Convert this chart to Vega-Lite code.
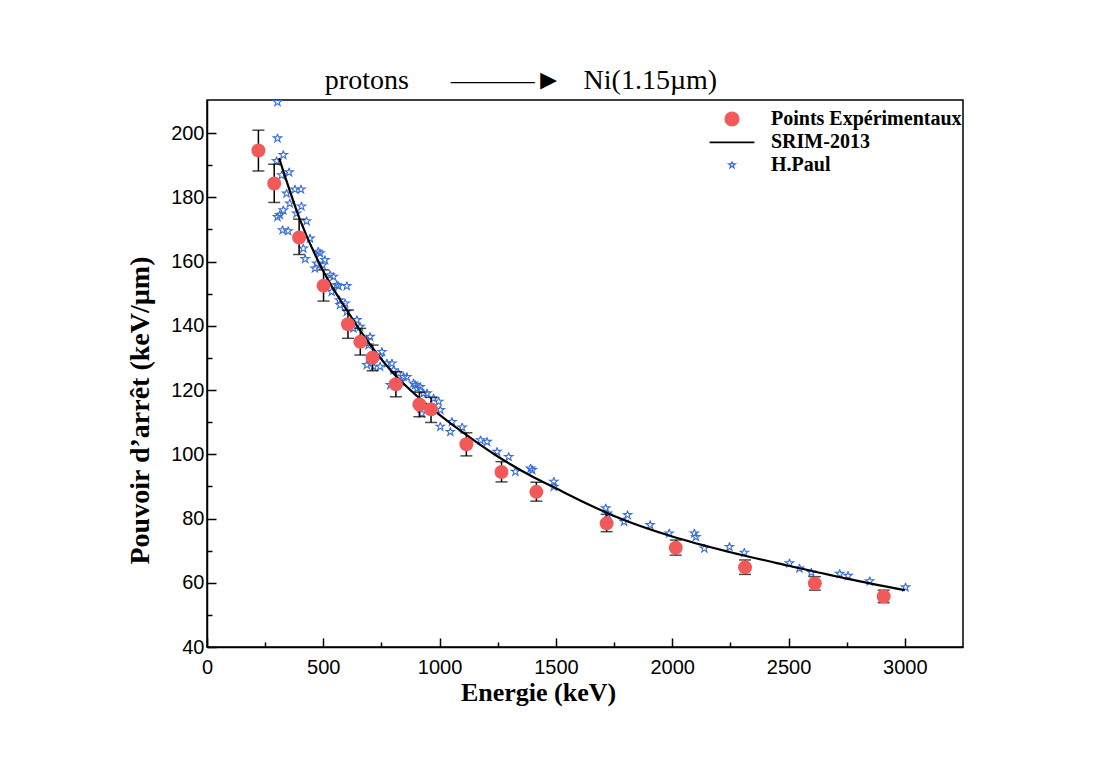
{
  "$schema": "https://vega.github.io/schema/vega-lite/v6.json",
  "width": 756,
  "height": 547,
  "autosize": {"type": "none"},
  "padding": {"left": 207, "top": 100, "right": 151, "bottom": 123},
  "background": "white",
  "title": {
    "text": "protons\u00a0\u00a0\u00a0\u00a0\u00a0\u00a0———►\u00a0\u00a0\u00a0Ni(1.15µm)",
    "font": "Liberation Serif",
    "fontSize": 28,
    "fontWeight": "normal",
    "color": "black",
    "anchor": "middle",
    "dx": -64,
    "baseline": "alphabetic",
    "offset": -17
  },
  "config": {
    "view": {"stroke": "black", "strokeWidth": 1.5},
    "axis": {
      "domainColor": "black",
      "domainWidth": 1.5,
      "tickColor": "black",
      "tickWidth": 1.5,
      "grid": false,
      "labelFont": "Liberation Sans",
      "labelFontSize": 20,
      "labelColor": "black",
      "labelFlush": false,
      "titleFont": "Liberation Serif",
      "titleFontWeight": "bold",
      "titleFontSize": 26,
      "titleColor": "black"
    }
  },
  "datasets": {
    "exp": [
      {"E": 221, "V": 194.6, "lo": 188.2, "hi": 200.9, "series": "Points Expérimentaux"},
      {"E": 289, "V": 184.3, "lo": 178.4, "hi": 190.3, "series": "Points Expérimentaux"},
      {"E": 396, "V": 167.5, "lo": 162.2, "hi": 173.2, "series": "Points Expérimentaux"},
      {"E": 501, "V": 152.5, "lo": 147.7, "hi": 157.4, "series": "Points Expérimentaux"},
      {"E": 606, "V": 140.5, "lo": 136.1, "hi": 144.9, "series": "Points Expérimentaux"},
      {"E": 659, "V": 135.0, "lo": 130.9, "hi": 139.2, "series": "Points Expérimentaux"},
      {"E": 712, "V": 130.1, "lo": 126.0, "hi": 134.0, "series": "Points Expérimentaux"},
      {"E": 812, "V": 121.8, "lo": 117.9, "hi": 125.7, "series": "Points Expérimentaux"},
      {"E": 913, "V": 115.5, "lo": 111.7, "hi": 119.3, "series": "Points Expérimentaux"},
      {"E": 963, "V": 114.0, "lo": 109.9, "hi": 117.7, "series": "Points Expérimentaux"},
      {"E": 1115, "V": 103.1, "lo": 99.5, "hi": 106.7, "series": "Points Expérimentaux"},
      {"E": 1266, "V": 94.5, "lo": 91.4, "hi": 97.7, "series": "Points Expérimentaux"},
      {"E": 1416, "V": 88.3, "lo": 85.4, "hi": 91.3, "series": "Points Expérimentaux"},
      {"E": 1718, "V": 78.5, "lo": 75.9, "hi": 81.3, "series": "Points Expérimentaux"},
      {"E": 2015, "V": 70.9, "lo": 68.6, "hi": 73.3, "series": "Points Expérimentaux"},
      {"E": 2313, "V": 64.8, "lo": 62.6, "hi": 67.1, "series": "Points Expérimentaux"},
      {"E": 2613, "V": 59.8, "lo": 57.7, "hi": 61.9, "series": "Points Expérimentaux"},
      {"E": 2909, "V": 55.7, "lo": 53.8, "hi": 57.7, "series": "Points Expérimentaux"}
    ],
    "srim": [
      {"E": 310, "V": 192.2, "series": "SRIM-2013"},
      {"E": 400, "V": 173.0, "series": "SRIM-2013"},
      {"E": 500, "V": 157.0, "series": "SRIM-2013"},
      {"E": 600, "V": 145.0, "series": "SRIM-2013"},
      {"E": 700, "V": 134.3, "series": "SRIM-2013"},
      {"E": 800, "V": 125.3, "series": "SRIM-2013"},
      {"E": 900, "V": 118.3, "series": "SRIM-2013"},
      {"E": 1000, "V": 112.3, "series": "SRIM-2013"},
      {"E": 1100, "V": 106.8, "series": "SRIM-2013"},
      {"E": 1250, "V": 99.3, "series": "SRIM-2013"},
      {"E": 1400, "V": 93.0, "series": "SRIM-2013"},
      {"E": 1500, "V": 89.4, "series": "SRIM-2013"},
      {"E": 1600, "V": 85.8, "series": "SRIM-2013"},
      {"E": 1750, "V": 80.8, "series": "SRIM-2013"},
      {"E": 2000, "V": 74.4, "series": "SRIM-2013"},
      {"E": 2250, "V": 69.5, "series": "SRIM-2013"},
      {"E": 2500, "V": 65.3, "series": "SRIM-2013"},
      {"E": 2750, "V": 61.3, "series": "SRIM-2013"},
      {"E": 3000, "V": 57.7, "series": "SRIM-2013"}
    ],
    "paul": [
      {"E": 303, "V": 209.7, "series": "H.Paul"}, {"E": 303, "V": 198.4, "series": "H.Paul"},
      {"E": 328, "V": 193.2, "series": "H.Paul"}, {"E": 299, "V": 191.3, "series": "H.Paul"},
      {"E": 353, "V": 187.8, "series": "H.Paul"}, {"E": 321, "V": 186.9, "series": "H.Paul"},
      {"E": 378, "V": 182.5, "series": "H.Paul"}, {"E": 404, "V": 182.5, "series": "H.Paul"},
      {"E": 342, "V": 181.2, "series": "H.Paul"}, {"E": 356, "V": 178.1, "series": "H.Paul"},
      {"E": 406, "V": 177.2, "series": "H.Paul"}, {"E": 328, "V": 176.0, "series": "H.Paul"},
      {"E": 313, "V": 174.5, "series": "H.Paul"}, {"E": 303, "V": 173.9, "series": "H.Paul"},
      {"E": 385, "V": 175.0, "series": "H.Paul"}, {"E": 428, "V": 172.6, "series": "H.Paul"},
      {"E": 325, "V": 169.8, "series": "H.Paul"}, {"E": 349, "V": 169.5, "series": "H.Paul"},
      {"E": 443, "V": 167.2, "series": "H.Paul"}, {"E": 414, "V": 164.1, "series": "H.Paul"},
      {"E": 422, "V": 160.8, "series": "H.Paul"}, {"E": 478, "V": 163.1, "series": "H.Paul"},
      {"E": 486, "V": 162.6, "series": "H.Paul"}, {"E": 507, "V": 160.5, "series": "H.Paul"},
      {"E": 464, "V": 157.9, "series": "H.Paul"}, {"E": 497, "V": 158.9, "series": "H.Paul"},
      {"E": 472, "V": 159.4, "series": "H.Paul"}, {"E": 529, "V": 155.8, "series": "H.Paul"},
      {"E": 543, "V": 155.3, "series": "H.Paul"}, {"E": 558, "V": 152.7, "series": "H.Paul"},
      {"E": 601, "V": 152.4, "series": "H.Paul"}, {"E": 565, "V": 152.4, "series": "H.Paul"},
      {"E": 536, "V": 150.6, "series": "H.Paul"}, {"E": 569, "V": 148.0, "series": "H.Paul"},
      {"E": 594, "V": 147.0, "series": "H.Paul"}, {"E": 572, "V": 146.5, "series": "H.Paul"},
      {"E": 601, "V": 144.4, "series": "H.Paul"}, {"E": 644, "V": 141.8, "series": "H.Paul"},
      {"E": 658, "V": 139.7, "series": "H.Paul"}, {"E": 629, "V": 139.2, "series": "H.Paul"},
      {"E": 701, "V": 136.6, "series": "H.Paul"}, {"E": 687, "V": 135.6, "series": "H.Paul"},
      {"E": 694, "V": 134.0, "series": "H.Paul"}, {"E": 752, "V": 131.9, "series": "H.Paul"},
      {"E": 744, "V": 130.4, "series": "H.Paul"}, {"E": 687, "V": 127.8, "series": "H.Paul"},
      {"E": 716, "V": 127.3, "series": "H.Paul"}, {"E": 744, "V": 127.3, "series": "H.Paul"},
      {"E": 773, "V": 128.3, "series": "H.Paul"}, {"E": 795, "V": 128.3, "series": "H.Paul"},
      {"E": 802, "V": 126.2, "series": "H.Paul"}, {"E": 823, "V": 125.2, "series": "H.Paul"},
      {"E": 859, "V": 124.1, "series": "H.Paul"}, {"E": 845, "V": 124.1, "series": "H.Paul"},
      {"E": 888, "V": 122.1, "series": "H.Paul"}, {"E": 831, "V": 122.6, "series": "H.Paul"},
      {"E": 788, "V": 121.6, "series": "H.Paul"}, {"E": 917, "V": 121.0, "series": "H.Paul"},
      {"E": 895, "V": 121.6, "series": "H.Paul"}, {"E": 903, "V": 120.5, "series": "H.Paul"},
      {"E": 931, "V": 119.0, "series": "H.Paul"}, {"E": 946, "V": 119.0, "series": "H.Paul"},
      {"E": 974, "V": 117.4, "series": "H.Paul"}, {"E": 996, "V": 116.4, "series": "H.Paul"},
      {"E": 1003, "V": 113.8, "series": "H.Paul"}, {"E": 924, "V": 112.7, "series": "H.Paul"},
      {"E": 1053, "V": 110.1, "series": "H.Paul"}, {"E": 1003, "V": 108.6, "series": "H.Paul"},
      {"E": 1046, "V": 107.0, "series": "H.Paul"}, {"E": 1097, "V": 108.4, "series": "H.Paul"},
      {"E": 1176, "V": 104.4, "series": "H.Paul"}, {"E": 1204, "V": 103.9, "series": "H.Paul"},
      {"E": 1247, "V": 100.8, "series": "H.Paul"}, {"E": 1297, "V": 99.2, "series": "H.Paul"},
      {"E": 1326, "V": 94.6, "series": "H.Paul"}, {"E": 1391, "V": 95.6, "series": "H.Paul"},
      {"E": 1398, "V": 95.1, "series": "H.Paul"}, {"E": 1491, "V": 91.5, "series": "H.Paul"},
      {"E": 1491, "V": 89.9, "series": "H.Paul"}, {"E": 1714, "V": 83.2, "series": "H.Paul"},
      {"E": 1722, "V": 81.6, "series": "H.Paul"}, {"E": 1808, "V": 81.1, "series": "H.Paul"},
      {"E": 1793, "V": 79.0, "series": "H.Paul"}, {"E": 1905, "V": 78.0, "series": "H.Paul"},
      {"E": 1987, "V": 75.4, "series": "H.Paul"}, {"E": 2095, "V": 75.4, "series": "H.Paul"},
      {"E": 2102, "V": 74.3, "series": "H.Paul"}, {"E": 2138, "V": 70.7, "series": "H.Paul"},
      {"E": 2246, "V": 71.2, "series": "H.Paul"}, {"E": 2310, "V": 69.4, "series": "H.Paul"},
      {"E": 2504, "V": 66.1, "series": "H.Paul"}, {"E": 2547, "V": 64.5, "series": "H.Paul"},
      {"E": 2598, "V": 63.2, "series": "H.Paul"}, {"E": 2720, "V": 62.8, "series": "H.Paul"},
      {"E": 2756, "V": 62.2, "series": "H.Paul"}, {"E": 2849, "V": 60.5, "series": "H.Paul"},
      {"E": 3003, "V": 58.6, "series": "H.Paul"}
    ]
  },
  "encoding": {
    "x": {
      "field": "E", "type": "quantitative",
      "scale": {"domain": [0, 3250], "nice": false, "zero": false},
      "axis": {
        "title": "Energie (keV)",
        "values": [0, 250, 500, 750, 1000, 1250, 1500, 1750, 2000, 2250, 2500, 2750, 3000],
        "format": "d",
        "labelExpr": "datum.value % 500 === 0 ? datum.label : ''",
        "tickSize": {"condition": {"test": "datum.value % 500 === 0", "value": -9}, "value": -5},
        "labelPadding": 19,
        "titleX": 331,
        "titleY": 45,
        "titleBaseline": "middle"
      }
    },
    "y": {
      "field": "V", "type": "quantitative",
      "scale": {"domain": [40, 210.3], "nice": false, "zero": false},
      "axis": {
        "title": "Pouvoir d’arrêt (keV/µm)",
        "titleFontSize": 28,
        "values": [40, 50, 60, 70, 80, 90, 100, 110, 120, 130, 140, 150, 160, 170, 180, 190, 200],
        "labelExpr": "datum.value % 20 === 0 ? datum.label : ''",
        "tickSize": {"condition": {"test": "datum.value % 20 === 0", "value": -9}, "value": -5},
        "labelPadding": 12,
        "titleX": -67,
        "titleY": 310,
        "titleBaseline": "middle",
        "titleAngle": -90
      }
    }
  },
  "layer": [
    {
      "data": {"name": "paul"},
      "mark": {"type": "point", "filled": false, "size": 310, "strokeWidth": 1.1, "opacity": 1, "clip": true},
      "encoding": {
        "color": {
          "field": "series", "type": "nominal",
          "scale": {"domain": ["Points Expérimentaux", "SRIM-2013", "H.Paul"], "range": ["#f25a5a", "#000000", "#3a6fd8"]},
          "legend": {
            "title": null,
            "orient": "none",
            "legendX": 515,
            "legendY": 9,
            "padding": 0,
            "labelFont": "Liberation Serif",
            "labelFontWeight": "bold",
            "labelFontSize": 20,
            "labelColor": "black",
            "labelLimit": 0,
            "symbolSize": 196,
            "symbolStrokeWidth": 1.2,
            "symbolOpacity": 1,
            "labelOffset": 29,
            "rowPadding": 3
          }
        },
        "shape": {
          "field": "series", "type": "nominal",
          "scale": {"domain": ["Points Expérimentaux", "SRIM-2013", "H.Paul"], "range": ["circle", "M-3.2,0L3.2,0M-3.2,0.08L3.2,0.08", "M0,-0.5L0.1123,-0.1545L0.4755,-0.1545L0.1815,0.059L0.294,0.4045L0,0.191L-0.294,0.4045L-0.1815,0.059L-0.4755,-0.1545L-0.1123,-0.1545L0,-0.5L-0.1123,-0.1545L-0.4755,-0.1545L-0.1815,0.059L-0.294,0.4045L0,0.191L0.294,0.4045L0.1815,0.059L0.4755,-0.1545L0.1123,-0.1545L0,-0.5"]}
        }
      }
    },
    {
      "data": {"name": "srim"},
      "mark": {"type": "line", "strokeWidth": 2.2, "interpolate": "monotone"},
      "encoding": {
        "color": {"field": "series", "type": "nominal"}
      }
    },
    {
      "data": {"name": "exp"},
      "mark": {"type": "rule", "color": "black", "strokeWidth": 1.5},
      "encoding": {
        "y": {"field": "lo", "type": "quantitative"},
        "y2": {"field": "hi"}
      }
    },
    {
      "data": {"name": "exp"},
      "mark": {"type": "tick", "orient": "horizontal", "color": "black", "size": 12, "thickness": 1.5},
      "encoding": {
        "y": {"field": "lo", "type": "quantitative"}
      }
    },
    {
      "data": {"name": "exp"},
      "mark": {"type": "tick", "orient": "horizontal", "color": "black", "size": 12, "thickness": 1.5},
      "encoding": {
        "y": {"field": "hi", "type": "quantitative"}
      }
    },
    {
      "data": {"name": "exp"},
      "mark": {"type": "point", "filled": true, "size": 196, "opacity": 1},
      "encoding": {
        "color": {"field": "series", "type": "nominal"},
        "shape": {"field": "series", "type": "nominal"}
      }
    }
  ]
}
